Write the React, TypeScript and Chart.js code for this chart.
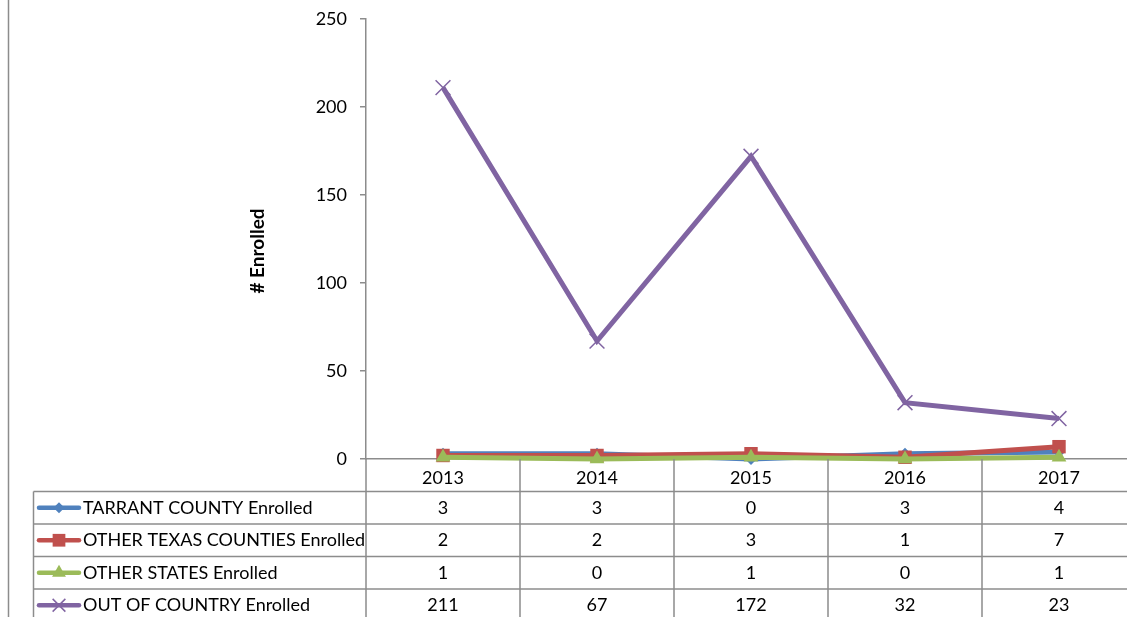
import React, { useEffect, useRef } from "react";
import { Chart, registerables } from "chart.js";

Chart.register(...registerables);

const categories = ["2013", "2014", "2015", "2016", "2017"];
const seriesNames = [
  "TARRANT COUNTY Enrolled",
  "OTHER TEXAS COUNTIES Enrolled",
  "OTHER STATES Enrolled",
  "OUT OF COUNTRY Enrolled",
];
const tarrant = [3, 3, 0, 3, 4];
const otherTexas = [2, 2, 3, 1, 7];
const otherStates = [1, 0, 1, 0, 1];
const outOfCountry = [211, 67, 172, 32, 23];
const yTickValues = [0, 50, 100, 150, 200, 250];
const yTitle = "# Enrolled";

const colors = ["#4F81BD", "#C0504D", "#9BBB59", "#8064A2"];
const markers = ["rectRot", "rect", "triangle", "crossRot"];
const markerRadius = [6, 9.5, 8.5, 10.5];

const FONT = "Lato, 'Noto Sans', sans-serif";
const FS = 18;
const W = 1145;
const H = 617;
const GRID = "#8c8c8c";

function drawMarker(ctx: CanvasRenderingContext2D, kind: string, x: number, y: number, r: number, color: string) {
  ctx.save();
  ctx.fillStyle = color;
  ctx.strokeStyle = color;
  ctx.beginPath();
  if (kind === "rectRot") {
    ctx.moveTo(x, y - r);
    ctx.lineTo(x + r, y);
    ctx.lineTo(x, y + r);
    ctx.lineTo(x - r, y);
    ctx.closePath();
    ctx.fill();
  } else if (kind === "rect") {
    const s = Math.SQRT1_2 * r;
    ctx.rect(x - s, y - s, 2 * s, 2 * s);
    ctx.fill();
  } else if (kind === "triangle") {
    ctx.moveTo(x, y - r);
    ctx.lineTo(x + r * 0.866, y + r * 0.5);
    ctx.lineTo(x - r * 0.866, y + r * 0.5);
    ctx.closePath();
    ctx.fill();
  } else {
    const o = Math.SQRT1_2 * r;
    ctx.lineWidth = 1.5;
    ctx.moveTo(x - o, y - o);
    ctx.lineTo(x + o, y + o);
    ctx.moveTo(x + o, y - o);
    ctx.lineTo(x - o, y + o);
    ctx.stroke();
  }
  ctx.restore();
}

const seriesData = [tarrant, otherTexas, otherStates, outOfCountry];

const tablePlugin = {
  id: "dataTable",
  afterDraw(chart: any) {
    const ctx: CanvasRenderingContext2D = chart.ctx;
    const xs = chart.scales.x;
    const area = chart.chartArea;
    const colW = xs.getPixelForValue(1) - xs.getPixelForValue(0);
    const rowH = 32.5;
    const tableLeft = 33.5;
    const headerBottom = area.bottom + rowH;
    ctx.save();
    ctx.strokeStyle = GRID;
    ctx.lineWidth = 1.5;
    ctx.beginPath();
    ctx.moveTo(8.5, 0);
    ctx.lineTo(8.5, H);
    ctx.stroke();
    for (let r = 0; r < 4; r++) {
      const y = headerBottom + r * rowH;
      ctx.beginPath();
      ctx.moveTo(tableLeft, y);
      ctx.lineTo(area.right, y);
      ctx.stroke();
    }
    ctx.beginPath();
    ctx.moveTo(tableLeft, headerBottom);
    ctx.lineTo(tableLeft, H);
    ctx.stroke();
    ctx.beginPath();
    ctx.moveTo(area.left, area.bottom);
    ctx.lineTo(area.left, H);
    for (let i = 0; i < categories.length; i++) {
      const xr = xs.getPixelForValue(i) + colW / 2;
      ctx.moveTo(xr, area.bottom);
      ctx.lineTo(xr, H);
    }
    ctx.stroke();

    ctx.fillStyle = "#000";
    ctx.font = `${FS}px ${FONT}`;
    ctx.textBaseline = "middle";
    for (let s = 0; s < seriesData.length; s++) {
      const cy = headerBottom + s * rowH + rowH / 2;
      ctx.textAlign = "center";
      seriesData[s].forEach((v, i) => {
        ctx.fillText(String(v), xs.getPixelForValue(i), cy);
      });
      ctx.save();
      ctx.strokeStyle = colors[s];
      ctx.lineWidth = 4.5;
      ctx.lineCap = "round";
      ctx.beginPath();
      ctx.moveTo(39, cy);
      ctx.lineTo(79, cy);
      ctx.stroke();
      ctx.restore();
      drawMarker(ctx, markers[s], 59, cy, s === 0 ? 5.5 : s === 1 ? 9 : s === 2 ? 8 : 9, colors[s]);
      ctx.fillStyle = "#000";
      ctx.textAlign = "left";
      ctx.fillText(seriesNames[s], 83, cy);
    }

    ctx.save();
    ctx.translate(258, 251);
    ctx.rotate(-Math.PI / 2);
    ctx.font = `bold ${FS + 1}px ${FONT}`;
    ctx.textAlign = "center";
    ctx.textBaseline = "middle";
    ctx.fillText(yTitle, 0, 0);
    ctx.restore();
    ctx.restore();
  },
};

export default function App() {
  const ref = useRef<HTMLCanvasElement | null>(null);
  useEffect(() => {
    document.body.style.margin = "0";
    const canvas = ref.current;
    if (!canvas) return;
    const chart = new Chart(canvas, {
      type: "line",
      data: {
        labels: categories,
        datasets: seriesData.map((d, i) => ({
          label: seriesNames[i],
          data: d,
          borderColor: colors[i],
          backgroundColor: colors[i],
          borderWidth: 5,
          pointStyle: markers[i] as any,
          pointRadius: markerRadius[i],
          pointBorderWidth: i === 3 ? 1.5 : 0,
          pointBorderColor: colors[i],
          pointBackgroundColor: colors[i],
          pointHoverRadius: markerRadius[i],
          tension: 0,
          fill: false,
          order: 4 - i,
          clip: false as any,
        })),
      },
      options: {
        animation: false,
        responsive: false,
        devicePixelRatio: 1,
        events: [],
        layout: { autoPadding: false, padding: { left: 0, top: 19, right: W - 1136, bottom: 0 } },
        plugins: {
          legend: { display: false },
          tooltip: { enabled: false },
          title: { display: false },
        },
        scales: {
          y: {
            min: 0,
            max: 250,
            afterBuildTicks: (scale: any) => {
              scale.ticks = yTickValues.map((v) => ({ value: v }));
            },
            afterFit: (scale: any) => {
              scale.width = 366;
              scale.paddingTop = 0;
              scale.paddingBottom = 0;
            },
            border: { display: true, color: GRID, width: 1.5 },
            grid: { display: true, drawOnChartArea: false, drawTicks: true, tickLength: 6, color: GRID, lineWidth: 1.5 },
            ticks: { padding: 13, color: "#000", font: { family: FONT, size: FS } },
          },
          x: {
            offset: true,
            afterFit: (scale: any) => {
              scale.height = H - 459;
            },
            border: { display: true, color: GRID, width: 1.5 },
            grid: { display: false },
            ticks: { padding: 0, color: "#000", font: { family: FONT, size: FS }, maxRotation: 0 },
          },
        },
      },
      plugins: [tablePlugin],
    });
    return () => chart.destroy();
  }, []);
  return (
    <div style={{ position: "absolute", left: 0, top: 0, width: 1127, height: H, overflow: "hidden", background: "#fff" }}>
      <canvas ref={ref} width={W} height={H} style={{ width: W, height: H, display: "block" }} />
    </div>
  );
}
